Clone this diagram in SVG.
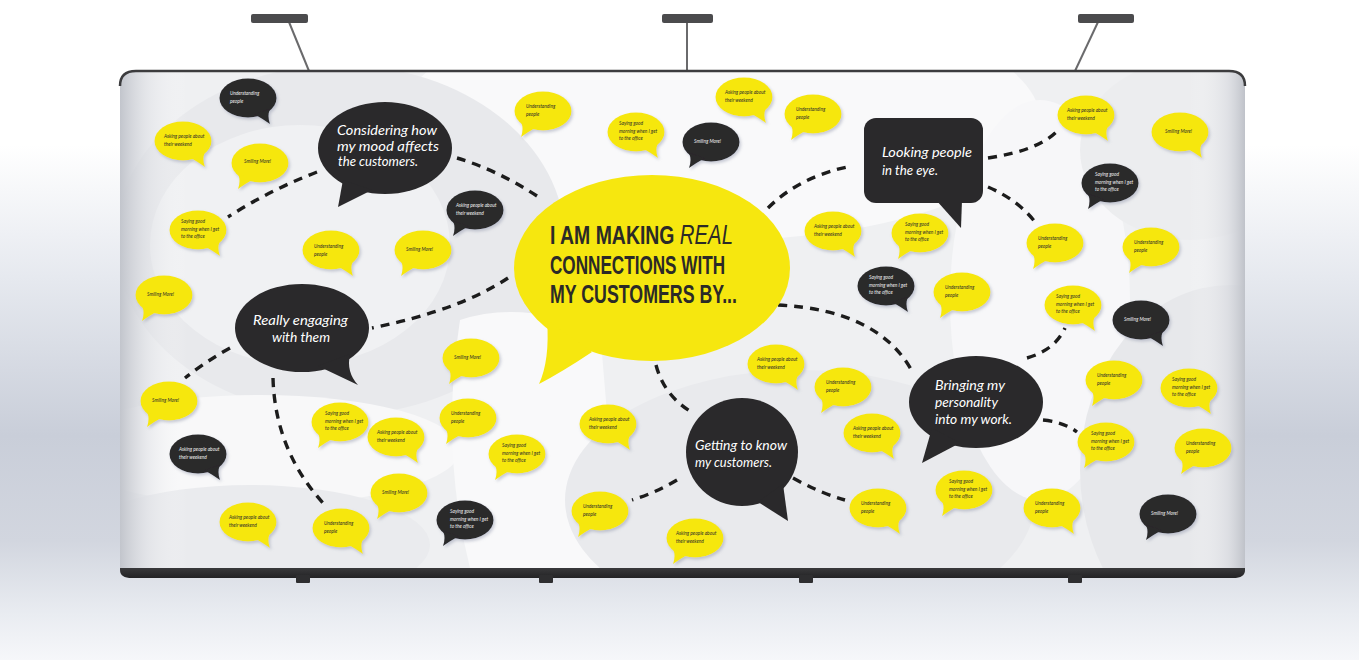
<svg xmlns="http://www.w3.org/2000/svg" xmlns:xlink="http://www.w3.org/1999/xlink" width="1359" height="660" viewBox="0 0 1359 660">
  <style>
    .y { fill: #F6E70F; }
    .k { fill: #2A292B; }
    .sb { filter: url(#sh); }
    .st { font-family: "Lato", "Liberation Sans", sans-serif; font-style: italic; font-size: 4.8px; fill: #2A2A2A; }
    .sw { font-family: "Lato", "Liberation Sans", sans-serif; font-style: italic; font-size: 4.8px; fill: #F2F2F2; }
    .bt { font-family: "Lato", "Liberation Sans", sans-serif; font-style: italic; font-size: 14px; fill: #FFFFFF; }
    .hd { font-family: "Liberation Sans", "Roboto", sans-serif; font-weight: bold; font-size: 25.8px; fill: #2B2A27; }
    .hdi { font-style: italic; font-weight: normal; font-size: 27px; }
    .conn path { fill: none; stroke: #1C1C1C; stroke-width: 3.4; stroke-dasharray: 9 7; }
    .lamp-head { fill: #4B4B4D; }
    .lamp-arm { stroke: #6A6A6C; stroke-width: 2; fill: none; }
    .foot { fill: #2E2E30; }
  </style>
  <defs>
    <linearGradient id="bgv" x1="0" y1="0" x2="0" y2="1">
      <stop offset="0" stop-color="#FFFFFF"/>
      <stop offset="0.22" stop-color="#FFFFFF"/>
      <stop offset="0.42" stop-color="#E6E9EF"/>
      <stop offset="0.66" stop-color="#C9CED9"/>
      <stop offset="0.82" stop-color="#D2D6DF"/>
      <stop offset="0.93" stop-color="#E9ECF1"/>
      <stop offset="1" stop-color="#F6F7FA"/>
    </linearGradient>
    <linearGradient id="edge" x1="0" y1="0" x2="1" y2="0">
      <stop offset="0" stop-color="#C2C5CC" stop-opacity="1"/>
      <stop offset="0.025" stop-color="#DCDEE3" stop-opacity="0.5"/>
      <stop offset="0.06" stop-color="#FFFFFF" stop-opacity="0"/>
      <stop offset="0.95" stop-color="#FFFFFF" stop-opacity="0"/>
      <stop offset="0.985" stop-color="#D6D8DE" stop-opacity="0.6"/>
      <stop offset="1" stop-color="#BFC2C9" stop-opacity="1"/>
    </linearGradient>
    <linearGradient id="base" x1="0" y1="0" x2="0" y2="1">
      <stop offset="0" stop-color="#6A6A6D"/>
      <stop offset="0.35" stop-color="#3A3A3C"/>
      <stop offset="1" stop-color="#232325"/>
    </linearGradient>
    <clipPath id="wallClip">
      <path d="M120,84 Q120,72 134,72 L1231,72 Q1245,72 1245,84 L1245,568 L120,568 Z"/>
    </clipPath>
    <filter id="sh" x="-20%" y="-20%" width="150%" height="160%">
      <feDropShadow dx="1.5" dy="2" stdDeviation="1.4" flood-color="#8A90A6" flood-opacity="0.45"/>
    </filter>
    <!-- small speech bubbles, centred at 0,0 -->
    <g id="sbR">
      <ellipse cx="0" cy="0" rx="28.5" ry="19.5"/>
      <path d="M6,16 Q15,21 22,26 Q19,18 22,11 Z"/>
    </g>
    <g id="sbL">
      <ellipse cx="0" cy="0" rx="28.5" ry="19.5"/>
      <path d="M-6,16 Q-15,21 -22,26 Q-19,18 -22,11 Z"/>
    </g>
  </defs>

  <!-- room backdrop -->
  <rect x="0" y="0" width="1359" height="660" fill="url(#bgv)"/>

  <!-- lamps -->
  <g id="lamps">
    <line class="lamp-arm" x1="289" y1="22" x2="309" y2="71"/>
    <rect class="lamp-head" x="251" y="14" width="57" height="9" rx="2"/>
    <line class="lamp-arm" x1="687" y1="22" x2="687" y2="71"/>
    <rect class="lamp-head" x="662" y="14" width="51" height="9" rx="2"/>
    <line class="lamp-arm" x1="1098" y1="22" x2="1075" y2="71"/>
    <rect class="lamp-head" x="1078" y="14" width="56" height="9" rx="2"/>
  </g>

  <!-- display wall -->
  <g id="wall">
    <path d="M120,562 L1245,562 L1245,570 Q1245,578 1233,578 L132,578 Q120,578 120,570 Z" fill="url(#base)"/>
    <rect class="foot" x="296" y="575" width="14" height="8" rx="1"/>
    <rect class="foot" x="539" y="575" width="14" height="8" rx="1"/>
    <rect class="foot" x="799" y="575" width="14" height="8" rx="1"/>
    <rect class="foot" x="1068" y="575" width="14" height="8" rx="1"/>
    <g clip-path="url(#wallClip)">
      <rect x="120" y="72" width="1125" height="496" fill="#EFF0F2"/>
      <!-- soft graphic swirls printed on the wall -->
      <ellipse cx="720" cy="120" rx="320" ry="120" fill="#F9F9FA"/>
      <ellipse cx="340" cy="240" rx="225" ry="175" fill="#E8E9EC"/>
      <ellipse cx="300" cy="245" rx="150" ry="120" fill="#F0F1F3"/>
      <ellipse cx="260" cy="450" rx="200" ry="55" fill="#F8F8F9"/>
      <ellipse cx="250" cy="545" rx="180" ry="60" fill="#EAEBEE"/>
      <path d="M460,320 Q520,300 600,330 L620,568 L470,568 Q440,450 460,320 Z" fill="#F9F9FA"/>
      <ellipse cx="800" cy="500" rx="235" ry="130" fill="#E9EAED"/>
      <ellipse cx="1040" cy="300" rx="90" ry="200" fill="#F7F7F9"/>
      <ellipse cx="1230" cy="470" rx="150" ry="185" fill="#E7E8EB"/>
      <ellipse cx="1190" cy="150" rx="110" ry="90" fill="#ECEDEF"/>
      <rect x="120" y="72" width="1125" height="496" fill="url(#edge)"/>
    </g>
    <path d="M120,86 Q120,71 136,71 L1229,71 Q1245,71 1245,86" fill="none" stroke="#3C3C3E" stroke-width="2.5"/>
  </g>

  <!-- connectors -->
  <g id="connectors" class="conn">
    <path d="M537,196 Q497,170 457,158"/>
    <path d="M317,172 Q270,190 228,217"/>
    <path d="M508,278 Q460,310 372,328"/>
    <path d="M230,348 Q205,362 185,378"/>
    <path d="M273,378 Q275,450 323,503"/>
    <path d="M656,365 Q664,396 693,413"/>
    <path d="M677,480 Q655,493 632,500"/>
    <path d="M793,478 Q820,493 845,500"/>
    <path d="M778,305 Q880,310 913,373"/>
    <path d="M1027,358 Q1055,350 1065,328"/>
    <path d="M1043,420 Q1064,422 1077,432"/>
    <path d="M768,208 Q800,176 852,166"/>
    <path d="M988,158 Q1042,150 1060,128"/>
    <path d="M988,187 Q1018,200 1035,222"/>
  </g>

  <!-- central statement -->
  <g id="node-main">
    <ellipse class="y" cx="652" cy="268" rx="138" ry="93"/>
    <path class="y" d="M547,320 Q550,360 539,384 Q562,372 592,352 Z"/>
    <text class="hd" x="550" y="244" textLength="183" lengthAdjust="spacingAndGlyphs">I AM MAKING <tspan class="hdi">REAL</tspan></text>
    <text class="hd" x="550" y="274" textLength="175" lengthAdjust="spacingAndGlyphs">CONNECTIONS WITH</text>
    <text class="hd" x="550" y="303" textLength="187" lengthAdjust="spacingAndGlyphs">MY CUSTOMERS BY...</text>
  </g>

  <!-- topic bubbles -->
  <g id="node-considering">
    <ellipse class="k" cx="385" cy="148" rx="67" ry="46"/>
    <path class="k" d="M343,180 L338,207 L372,190 Z"/>
    <text class="bt" x="337" y="135" textLength="100" lengthAdjust="spacingAndGlyphs">Considering how</text>
    <text class="bt" x="337" y="151" textLength="102" lengthAdjust="spacingAndGlyphs">my mood affects</text>
    <text class="bt" x="338" y="166" textLength="80" lengthAdjust="spacingAndGlyphs">the customers.</text>
  </g>
  <g id="node-looking">
    <rect class="k" x="864" y="118" width="119" height="85" rx="12"/>
    <path class="k" d="M936,200 L961,228 L962,200 Z"/>
    <text class="bt" x="882" y="157" textLength="90" lengthAdjust="spacingAndGlyphs">Looking people</text>
    <text class="bt" x="882" y="175" textLength="56" lengthAdjust="spacingAndGlyphs">in the eye.</text>
  </g>
  <g id="node-engaging">
    <ellipse class="k" cx="302" cy="328" rx="67" ry="44"/>
    <path class="k" d="M318,366 L358,385 Q346,372 350,354 Z"/>
    <text class="bt" x="253" y="325" textLength="95" lengthAdjust="spacingAndGlyphs">Really engaging</text>
    <text class="bt" x="272" y="342" textLength="58" lengthAdjust="spacingAndGlyphs">with them</text>
  </g>
  <g id="node-getting">
    <ellipse class="k" cx="742" cy="452" rx="56" ry="54"/>
    <path class="k" d="M758,502 L788,521 L783,484 Z"/>
    <text class="bt" x="695" y="450" textLength="92" lengthAdjust="spacingAndGlyphs">Getting to know</text>
    <text class="bt" x="695" y="467" textLength="77" lengthAdjust="spacingAndGlyphs">my customers.</text>
  </g>
  <g id="node-bringing">
    <ellipse class="k" cx="976" cy="402" rx="67" ry="46"/>
    <path class="k" d="M932,428 L922,463 L960,443 Z"/>
    <text class="bt" x="935" y="390" textLength="70" lengthAdjust="spacingAndGlyphs">Bringing my</text>
    <text class="bt" x="935" y="407" textLength="63" lengthAdjust="spacingAndGlyphs">personality</text>
    <text class="bt" x="935" y="424" textLength="77" lengthAdjust="spacingAndGlyphs">into my work.</text>
  </g>

  <!-- note bubbles -->
  <g id="n1" transform="translate(248 98)"><use href="#sbR" class="k sb"/><text class="sw"><tspan x="-18" y="-3">Understanding</tspan><tspan x="-18" y="5">people</tspan></text></g>
  <g id="n2" transform="translate(183 141)"><use href="#sbR" class="y sb"/><text class="st"><tspan x="-19" y="-3">Asking people about</tspan><tspan x="-19" y="5">their weekend</tspan></text></g>
  <g id="n3" transform="translate(260 163)"><use href="#sbL" class="y sb"/><text class="st" x="-16" y="0">Smiling More!</text></g>
  <g id="n4" transform="translate(198 230)"><use href="#sbR" class="y sb"/><text class="st"><tspan x="-17" y="-7">Saying good</tspan><tspan x="-17" y="1">morning when I get</tspan><tspan x="-17" y="8">to the office</tspan></text></g>
  <g id="n5" transform="translate(331 250)"><use href="#sbR" class="y sb"/><text class="st"><tspan x="-17" y="-2">Understanding</tspan><tspan x="-17" y="6">people</tspan></text></g>
  <g id="n6" transform="translate(164 295)"><use href="#sbL" class="y sb"/><text class="st" x="-17" y="1">Smiling More!</text></g>
  <g id="n7" transform="translate(423 250)"><use href="#sbL" class="y sb"/><text class="st" x="-17" y="1">Smiling More!</text></g>
  <g id="n8" transform="translate(475 210)"><use href="#sbL" class="k sb"/><text class="sw"><tspan x="-19" y="-3">Asking people about</tspan><tspan x="-19" y="5">their weekend</tspan></text></g>
  <g id="n9" transform="translate(543 111)"><use href="#sbL" class="y sb"/><text class="st"><tspan x="-17" y="-3">Understanding</tspan><tspan x="-17" y="5">people</tspan></text></g>
  <g id="n10" transform="translate(636 132)"><use href="#sbR" class="y sb"/><text class="st"><tspan x="-17" y="-7">Saying good</tspan><tspan x="-17" y="1">morning when I get</tspan><tspan x="-17" y="8">to the office</tspan></text></g>
  <g id="n11" transform="translate(711 142)"><use href="#sbL" class="k sb"/><text class="sw" x="-17" y="1">Smiling More!</text></g>
  <g id="n12" transform="translate(744 97)"><use href="#sbR" class="y sb"/><text class="st"><tspan x="-19" y="-3">Asking people about</tspan><tspan x="-19" y="5">their weekend</tspan></text></g>
  <g id="n13" transform="translate(813 114)"><use href="#sbL" class="y sb"/><text class="st"><tspan x="-17" y="-3">Understanding</tspan><tspan x="-17" y="5">people</tspan></text></g>
  <g id="n14" transform="translate(833 231)"><use href="#sbR" class="y sb"/><text class="st"><tspan x="-19" y="-3">Asking people about</tspan><tspan x="-19" y="5">their weekend</tspan></text></g>
  <g id="n15" transform="translate(920 233)"><use href="#sbL" class="y sb"/><text class="st"><tspan x="-15" y="-7">Saying good</tspan><tspan x="-15" y="1">morning when I get</tspan><tspan x="-15" y="8">to the office</tspan></text></g>
  <g id="n16" transform="translate(886 286)"><use href="#sbR" class="k sb"/><text class="sw"><tspan x="-17" y="-7">Saying good</tspan><tspan x="-17" y="1">morning when I get</tspan><tspan x="-17" y="8">to the office</tspan></text></g>
  <g id="n17" transform="translate(962 292)"><use href="#sbL" class="y sb"/><text class="st"><tspan x="-17" y="-3">Understanding</tspan><tspan x="-17" y="5">people</tspan></text></g>
  <g id="n18" transform="translate(1086 115)"><use href="#sbR" class="y sb"/><text class="st"><tspan x="-19" y="-3">Asking people about</tspan><tspan x="-19" y="5">their weekend</tspan></text></g>
  <g id="n19" transform="translate(1180 132)"><use href="#sbR" class="y sb"/><text class="st" x="-15" y="1">Smiling More!</text></g>
  <g id="n20" transform="translate(1110 183)"><use href="#sbL" class="k sb"/><text class="sw"><tspan x="-15" y="-7">Saying good</tspan><tspan x="-15" y="1">morning when I get</tspan><tspan x="-15" y="8">to the office</tspan></text></g>
  <g id="n21" transform="translate(1055 243)"><use href="#sbL" class="y sb"/><text class="st"><tspan x="-17" y="-3">Understanding</tspan><tspan x="-17" y="5">people</tspan></text></g>
  <g id="n22" transform="translate(1151 247)"><use href="#sbL" class="y sb"/><text class="st"><tspan x="-17" y="-3">Understanding</tspan><tspan x="-17" y="5">people</tspan></text></g>
  <g id="n23" transform="translate(1073 305)"><use href="#sbR" class="y sb"/><text class="st"><tspan x="-17" y="-7">Saying good</tspan><tspan x="-17" y="1">morning when I get</tspan><tspan x="-17" y="8">to the office</tspan></text></g>
  <g id="n24" transform="translate(1141 320)"><use href="#sbR" class="k sb"/><text class="sw" x="-17" y="1">Smiling More!</text></g>
  <g id="n25" transform="translate(1114 380)"><use href="#sbL" class="y sb"/><text class="st"><tspan x="-17" y="-3">Understanding</tspan><tspan x="-17" y="5">people</tspan></text></g>
  <g id="n26" transform="translate(1189 388)"><use href="#sbR" class="y sb"/><text class="st"><tspan x="-17" y="-7">Saying good</tspan><tspan x="-17" y="1">morning when I get</tspan><tspan x="-17" y="8">to the office</tspan></text></g>
  <g id="n27" transform="translate(1106 442)"><use href="#sbL" class="y sb"/><text class="st"><tspan x="-15" y="-7">Saying good</tspan><tspan x="-15" y="1">morning when I get</tspan><tspan x="-15" y="8">to the office</tspan></text></g>
  <g id="n28" transform="translate(1203 448)"><use href="#sbL" class="y sb"/><text class="st"><tspan x="-17" y="-3">Understanding</tspan><tspan x="-17" y="5">people</tspan></text></g>
  <g id="n29" transform="translate(1052 508)"><use href="#sbR" class="y sb"/><text class="st"><tspan x="-17" y="-3">Understanding</tspan><tspan x="-17" y="5">people</tspan></text></g>
  <g id="n30" transform="translate(1168 514)"><use href="#sbL" class="k sb"/><text class="sw" x="-17" y="1">Smiling More!</text></g>
  <g id="n31" transform="translate(776 364)"><use href="#sbR" class="y sb"/><text class="st"><tspan x="-19" y="-3">Asking people about</tspan><tspan x="-19" y="5">their weekend</tspan></text></g>
  <g id="n32" transform="translate(843 387)"><use href="#sbL" class="y sb"/><text class="st"><tspan x="-17" y="-3">Understanding</tspan><tspan x="-17" y="5">people</tspan></text></g>
  <g id="n33" transform="translate(872 433)"><use href="#sbR" class="y sb"/><text class="st"><tspan x="-19" y="-3">Asking people about</tspan><tspan x="-19" y="5">their weekend</tspan></text></g>
  <g id="n34" transform="translate(964 490)"><use href="#sbL" class="y sb"/><text class="st"><tspan x="-15" y="-7">Saying good</tspan><tspan x="-15" y="1">morning when I get</tspan><tspan x="-15" y="8">to the office</tspan></text></g>
  <g id="n35" transform="translate(878 508)"><use href="#sbR" class="y sb"/><text class="st"><tspan x="-17" y="-3">Understanding</tspan><tspan x="-17" y="5">people</tspan></text></g>
  <g id="n36" transform="translate(695 538)"><use href="#sbL" class="y sb"/><text class="st"><tspan x="-19" y="-3">Asking people about</tspan><tspan x="-19" y="5">their weekend</tspan></text></g>
  <g id="n37" transform="translate(600 511)"><use href="#sbL" class="y sb"/><text class="st"><tspan x="-17" y="-3">Understanding</tspan><tspan x="-17" y="5">people</tspan></text></g>
  <g id="n38" transform="translate(608 424)"><use href="#sbR" class="y sb"/><text class="st"><tspan x="-19" y="-3">Asking people about</tspan><tspan x="-19" y="5">their weekend</tspan></text></g>
  <g id="n39" transform="translate(517 454)"><use href="#sbL" class="y sb"/><text class="st"><tspan x="-15" y="-7">Saying good</tspan><tspan x="-15" y="1">morning when I get</tspan><tspan x="-15" y="8">to the office</tspan></text></g>
  <g id="n40" transform="translate(468 418)"><use href="#sbL" class="y sb"/><text class="st"><tspan x="-17" y="-3">Understanding</tspan><tspan x="-17" y="5">people</tspan></text></g>
  <g id="n41" transform="translate(471 358)"><use href="#sbL" class="y sb"/><text class="st" x="-17" y="1">Smiling More!</text></g>
  <g id="n42" transform="translate(396 437)"><use href="#sbR" class="y sb"/><text class="st"><tspan x="-19" y="-3">Asking people about</tspan><tspan x="-19" y="5">their weekend</tspan></text></g>
  <g id="n43" transform="translate(340 422)"><use href="#sbL" class="y sb"/><text class="st"><tspan x="-15" y="-7">Saying good</tspan><tspan x="-15" y="1">morning when I get</tspan><tspan x="-15" y="8">to the office</tspan></text></g>
  <g id="n44" transform="translate(399 493)"><use href="#sbL" class="y sb"/><text class="st" x="-17" y="1">Smiling More!</text></g>
  <g id="n45" transform="translate(465 520)"><use href="#sbL" class="k sb"/><text class="sw"><tspan x="-15" y="-7">Saying good</tspan><tspan x="-15" y="1">morning when I get</tspan><tspan x="-15" y="8">to the office</tspan></text></g>
  <g id="n46" transform="translate(341 528)"><use href="#sbR" class="y sb"/><text class="st"><tspan x="-17" y="-3">Understanding</tspan><tspan x="-17" y="5">people</tspan></text></g>
  <g id="n47" transform="translate(248 522)"><use href="#sbR" class="y sb"/><text class="st"><tspan x="-19" y="-3">Asking people about</tspan><tspan x="-19" y="5">their weekend</tspan></text></g>
  <g id="n48" transform="translate(169 401)"><use href="#sbL" class="y sb"/><text class="st" x="-17" y="1">Smiling More!</text></g>
  <g id="n49" transform="translate(198 454)"><use href="#sbR" class="k sb"/><text class="sw"><tspan x="-19" y="-3">Asking people about</tspan><tspan x="-19" y="5">their weekend</tspan></text></g>
</svg>
